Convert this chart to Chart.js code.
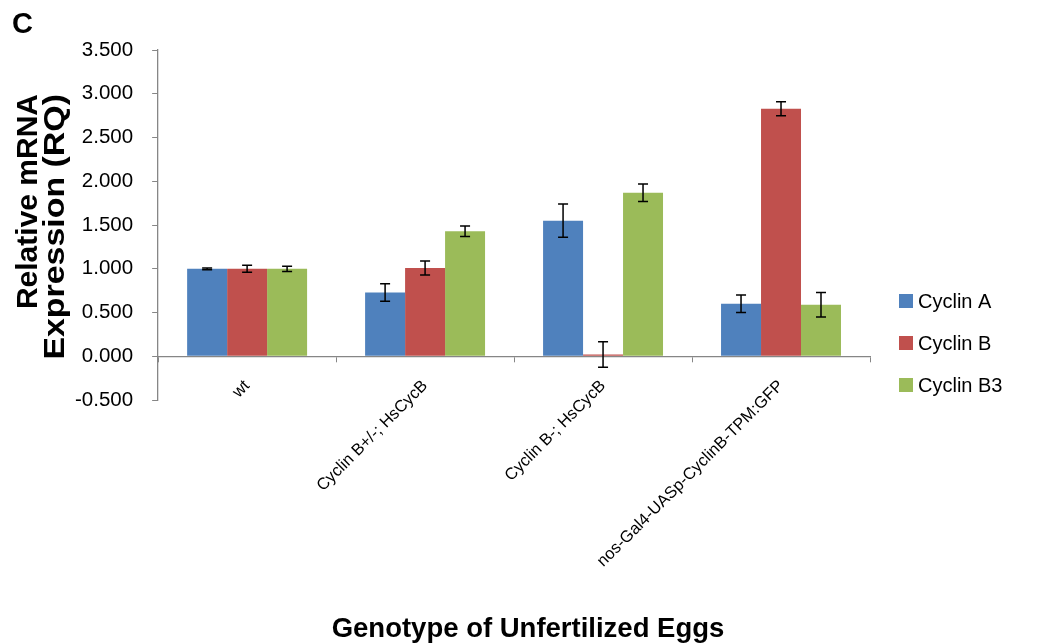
<!DOCTYPE html>
<html>
<head>
<meta charset="utf-8">
<script src="https://cdn.jsdelivr.net/npm/chart.js@4.4.1/dist/chart.umd.min.js"></script>
<style>
  html, body { margin: 0; padding: 0; background: #fff; }
</style>
</head>
<body>
<canvas id="chart" width="1043" height="643"></canvas>
<script>
// genotypes on the x axis
const genotypes = ["wt", "Cyclin B+/-; HsCycB", "Cyclin B-; HsCycB", "nos-Gal4-UASp-CyclinB-TPM:GFP"];

// RQ values per cyclin
const cyclinA = [1.00, 0.73, 1.55, 0.60];
const cyclinB = [1.00, 1.01, 0.02, 2.83];
const cyclinB3 = [1.00, 1.43, 1.87, 0.59];

// error bar half widths
const errA = [0.01, 0.10, 0.19, 0.10];
const errB = [0.04, 0.08, 0.145, 0.08];
const errB3 = [0.03, 0.06, 0.10, 0.14];

const seriesNames = ["Cyclin A", "Cyclin B", "Cyclin B3"];
const seriesColors = ["#4F81BD", "#C0504D", "#9BBB59"];

const yMin = -0.5;
const yMax = 3.5;
const yStep = 0.5;

const panelLabel = "C";
const xTitle = "Genotype of Unfertilized Eggs";
const yTitle = ["Relative mRNA", "Expression (RQ)"];

const errors = [errA, errB, errB3];
const FONT = "'Liberation Sans', Arial, sans-serif";

// 误差线
const errorBars = {
    id: "errorBars",
    afterDatasetsDraw(chart) {
        const c = chart.ctx;
        const y = chart.scales.y;
        c.save();
        c.strokeStyle = "#000";
        c.lineWidth = 1.5;
        chart.data.datasets.forEach((ds, i) => {
            const meta = chart.getDatasetMeta(i);
            meta.data.forEach((bar, j) => {
                const v = ds.data[j];
                const e = errors[i][j];
                const top = y.getPixelForValue(v + e);
                const bot = y.getPixelForValue(v - e);
                c.beginPath();
                c.moveTo(bar.x, top); c.lineTo(bar.x, bot);
                c.moveTo(bar.x - 5, top); c.lineTo(bar.x + 5, top);
                c.moveTo(bar.x - 5, bot); c.lineTo(bar.x + 5, bot);
                c.stroke();
            });
        });
        c.restore();
    }
};

// 图例和标题
const textLayer = {
    id: "textLayer",
    afterDraw(chart) {
        const c = chart.ctx;
        c.save();
        c.fillStyle = "#000";

        // panel letter
        c.font = "bold 29px " + FONT;
        c.textAlign = "left";
        c.textBaseline = "alphabetic";
        c.fillText(panelLabel, 12, 33);

        // x title
        c.font = "bold 27.5px " + FONT;
        c.textAlign = "center";
        c.fillText(xTitle, 528, 637);

        // y title, rotated, top aligned
        const cols = [37, 64];
        const stretch = [1.0, 1.13];
        c.font = "bold 30px " + FONT;
        c.textAlign = "right";
        yTitle.forEach((line, i) => {
            c.save();
            c.translate(cols[i], 94);
            c.rotate(-Math.PI / 2);
            c.scale(stretch[i], 1);
            c.fillText(line, 0, 0);
            c.restore();
        });

        // legend
        const rows = [301, 343, 385];
        c.font = "20px " + FONT;
        c.textAlign = "left";
        c.textBaseline = "middle";
        chart.data.datasets.forEach((ds, i) => {
            c.fillStyle = ds.backgroundColor;
            c.fillRect(899, rows[i] - 7, 14, 14);
            c.fillStyle = "#000";
            c.fillText(ds.label, 918, rows[i] + 1);
        });
        c.restore();
    }
};

const ctx = document.getElementById("chart").getContext("2d");
new Chart(ctx, {
    type: "bar",
    data: {
        labels: genotypes,
        datasets: [
            { label: seriesNames[0], data: cyclinA, backgroundColor: seriesColors[0] },
            { label: seriesNames[1], data: cyclinB, backgroundColor: seriesColors[1] },
            { label: seriesNames[2], data: cyclinB3, backgroundColor: seriesColors[2] },
        ],
    },
    options: {
        responsive: false,
        animation: false,
        layout: { padding: { left: 56, top: 50, right: 173, bottom: 243 } },
        datasets: { bar: { categoryPercentage: 0.674, barPercentage: 1.0 } },
        plugins: {
            legend: { display: false },
            tooltip: { enabled: false },
        },
        scales: {
            x: {
                position: { y: 0 },
                grid: { display: true, drawOnChartArea: false, offset: true, tickLength: 5, color: "#868686" },
                border: { color: "#868686", width: 1.3 },
                ticks: {
                    maxRotation: 45, minRotation: 45, padding: 15,
                    color: "#000",
                    font: { family: FONT, size: 16.5 },
                },
            },
            y: {
                min: yMin,
                max: yMax,
                grid: { display: true, drawOnChartArea: false, tickLength: 6, color: "#868686" },
                border: { color: "#868686", width: 1.3 },
                ticks: {
                    stepSize: yStep,
                    padding: 19,
                    color: "#000",
                    font: { family: FONT, size: 20.5 },
                    callback: (value) => Number(value).toFixed(3),
                },
            },
        },
    },
    plugins: [errorBars, textLayer],
});
</script>
</body>
</html>
